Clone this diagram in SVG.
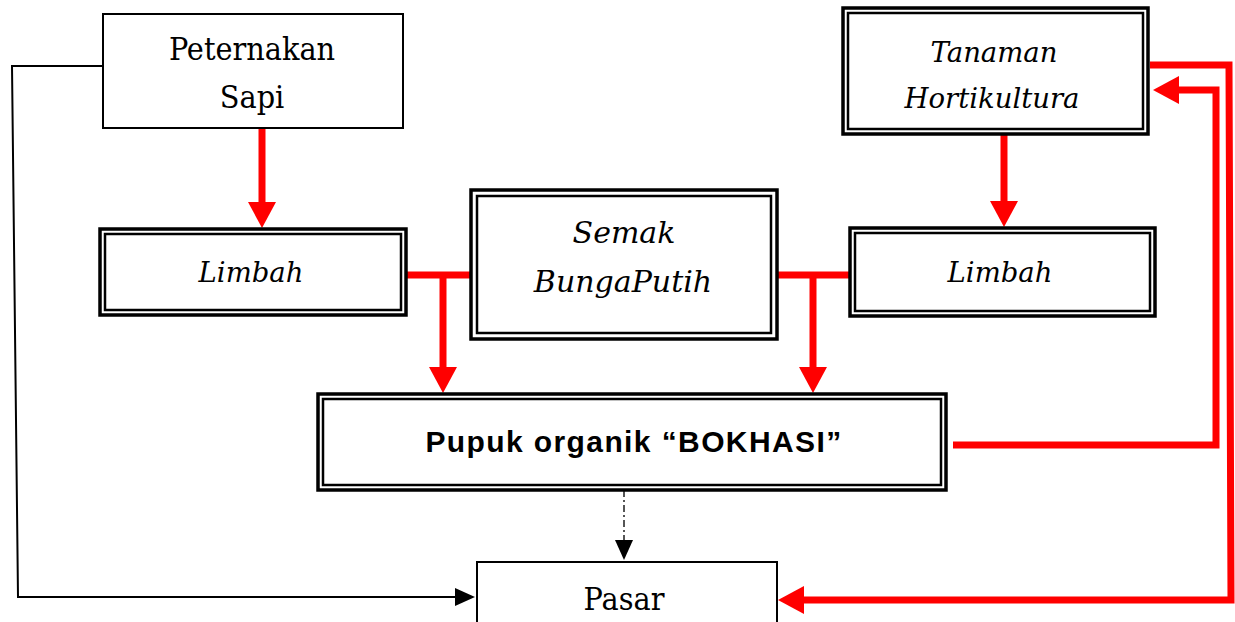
<svg xmlns="http://www.w3.org/2000/svg" width="1235" height="622" viewBox="0 0 1235 622">
<style>
.out{fill:#fff;stroke:#000;stroke-width:3.5}
.in{fill:none;stroke:#000;stroke-width:2.5}
.single{fill:#fff;stroke:#000;stroke-width:2}
.serif{font-family:"DejaVu Serif Condensed","DejaVu Serif",serif;font-size:32px;fill:#000;text-anchor:middle}
.ital{font-family:"DejaVu Serif","Liberation Serif",serif;font-style:italic;font-size:27.5px;fill:#000;text-anchor:middle}
.bold{font-family:"Liberation Sans",Arial,sans-serif;font-weight:bold;font-size:30px;letter-spacing:1.4px;fill:#000;text-anchor:middle}
.red{fill:none;stroke:#ff0000;stroke-width:7}
.blk{fill:none;stroke:#000;stroke-width:2}
.dash{fill:none;stroke:#555;stroke-width:2;stroke-dasharray:7 3 2 3}
</style>
<defs>
<marker id="rh" markerUnits="userSpaceOnUse" markerWidth="30" markerHeight="30" refX="1" refY="14" orient="auto">
<path d="M0,0 L26,14 L0,28 z" fill="#ff0000"/>
</marker>
<marker id="bh" markerUnits="userSpaceOnUse" markerWidth="22" markerHeight="22" refX="1" refY="9" orient="auto">
<path d="M0,0 L20,9 L0,18 z" fill="#000"/>
</marker>
</defs>
<g id="connectors">
<polyline class="blk" points="103,66 12,66 18,597 456,597" marker-end="url(#bh)"/>
<line class="red" x1="262" y1="128" x2="262" y2="203" marker-end="url(#rh)"/>
<line class="red" x1="1004" y1="134" x2="1004" y2="202" marker-end="url(#rh)"/>
<line class="red" x1="406" y1="275" x2="471" y2="275"/>
<line class="red" x1="443" y1="272" x2="443" y2="368" marker-end="url(#rh)"/>
<line class="red" x1="777" y1="275" x2="850" y2="275"/>
<line class="red" x1="813" y1="272" x2="813" y2="368" marker-end="url(#rh)"/>
<polyline class="red" points="953,445 1216,445 1216,90 1178,90" marker-end="url(#rh)"/>
<polyline class="red" points="1150,65 1229,65 1231,600 803,600" marker-end="url(#rh)"/>
<line class="dash" x1="624" y1="490" x2="624" y2="541" marker-end="url(#bh)"/>
</g>
<g id="peternakan">
<rect class="single" x="103" y="14" width="300" height="114"/>
<text class="serif" x="252" y="60">Peternakan</text>
<text class="serif" x="252" y="108">Sapi</text>
</g>
<g id="limbah-kiri">
<rect class="out" x="100" y="229" width="306" height="86"/>
<rect class="in" x="105" y="234" width="296" height="76"/>
<text class="ital" x="251" y="282">Limbah</text>
</g>
<g id="tanaman">
<rect class="out" x="843" y="8" width="305" height="126"/>
<rect class="in" x="848" y="13" width="295" height="116"/>
<text class="ital" x="994" y="62">Tanaman</text>
<text class="ital" x="992" y="108">Hortikultura</text>
</g>
<g id="limbah-kanan">
<rect class="out" x="850" y="228" width="305" height="88"/>
<rect class="in" x="855" y="233" width="295" height="78"/>
<text class="ital" x="1000" y="282">Limbah</text>
</g>
<g id="semak">
<rect class="out" x="471" y="190" width="306" height="149"/>
<rect class="in" x="477" y="196" width="294" height="137"/>
<text class="ital" x="624" y="243" style="font-size:30px">Semak</text>
<text class="ital" x="623" y="292" style="font-size:30px">BungaPutih</text>
</g>
<g id="pupuk">
<rect class="out" x="318" y="394" width="628" height="96"/>
<rect class="in" x="323" y="399" width="618" height="86"/>
<text class="bold" x="634" y="452">Pupuk organik “BOKHASI”</text>
</g>
<g id="pasar">
<rect class="single" x="477" y="562" width="300" height="80"/>
<text class="serif" x="624" y="610">Pasar</text>
</g>
</svg>
